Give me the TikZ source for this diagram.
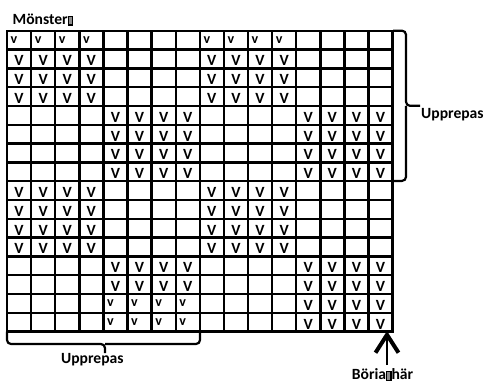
\documentclass[tikz,border=0pt]{standalone}
\usepackage{fontspec}
\setmainfont{Carlito}
\usetikzlibrary{arrows.meta}
\newcommand{\lf}{\bfseries\fontsize{15.6}{17}\selectfont}
\newcommand{\svf}{\bfseries\fontsize{14}{15}\selectfont}
\newcommand{\nochar}{{\setlength{\fboxsep}{0pt}\setlength{\fboxrule}{1.2pt}\fbox{\color{black!45}\rule{3pt}{7.5pt}}}}

\tikzset{
    gridline/.style={line width=2.4pt, line cap=rect},
    bigv/.style={inner sep=0pt, anchor=base, font=\lf},
    smallv/.style={inner sep=0pt, anchor=base west, font=\svf},
    lbl/.style={inner sep=0pt, font=\lf},
    brace/.style={line width=2.2pt, rounded corners=4pt},
}

\begin{document}
\begin{tikzpicture}[x=1pt, y=-1pt]
    \useasboundingbox (0,0) rectangle (486,383);

    % rutnät 16x16
    \foreach \i in {0,...,16} {
        \draw[gridline] (7+\i*24.1, 30.7) -- (7+\i*24.1, 331.5);
        \draw[gridline] (7, 30.7+\i*18.8) -- (392.6, 30.7+\i*18.8);
    }

    % maskor
    \foreach \rb/\cb in {0/0,0/2,1/1,1/3,2/0,2/2,3/1,3/3}
    \foreach \i in {0,...,3}
    \foreach \j in {0,...,3} {
        \pgfmathtruncatemacro{\row}{4*\rb+\j}
        \pgfmathtruncatemacro{\col}{4*\cb+\i}
        \pgfmathtruncatemacro{\little}{or(\row==0, and(\row>13, \cb==1))}
        \ifnum\little=1
            \node[smallv] (v-\row-\col) at (7+\col*24.1+3.5, 30.7+\row*18.8+12.8) {v};
        \else
            \node[bigv] (v-\row-\col) at (7+\col*24.1+12.05, 30.7+\row*18.8+16.3) {V};
        \fi
    }

    % rubrik
    \node[lbl, anchor=west] (monster) at (12.5, 19.7) {Mönster\nochar};

    % klammer höger
    \draw[brace] (393, 30.7) -- (406, 30.7) -- (406, 105.8) -- (420, 105.8);
    \draw[brace] (406, 105.8) -- (406, 180.9) -- (393, 180.9);
    \node[lbl, anchor=west] (rep-h) at (421, 114.5) {Upprepas};

    % klammer nere
    \draw[brace] (7, 331.5) -- (7, 344) -- (105, 344) -- (105, 353);
    \draw[brace] (105, 344) -- (200, 344) -- (200, 333);
    \node[lbl] (rep-n) at (92.4, 359.5) {Upprepas};

    % pil
    \coordinate (start) at (387, 365);
    \coordinate (tip) at (387, 331);
    \draw[line width=2.5pt, -{Straight Barb[length=18pt, width=23pt, line width=4pt]}] (start) -- (tip);
    \node[lbl] (borja) at (382.5, 375) {Böria\nochar{}här};
\end{tikzpicture}
\end{document}
